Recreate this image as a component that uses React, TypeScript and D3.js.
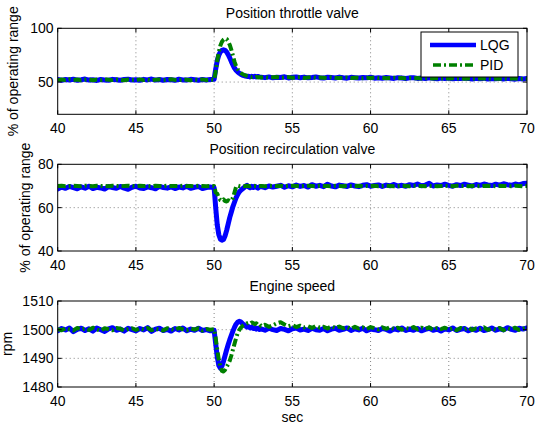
import React from "react";
import * as d3 from "d3";

// ---- time stamps (s) ----
const TIME_A = [40, 40.25, 40.5, 40.75, 41, 41.25, 41.5, 41.75, 42, 42.25, 42.5, 42.75, 43, 43.25, 43.5, 43.75, 44, 44.25, 44.5, 44.75, 45, 45.25, 45.5, 45.75, 46, 46.25, 46.5, 46.75, 47, 47.25, 47.5, 47.75, 48, 48.25, 48.5, 48.75, 49, 49.25, 49.5, 49.75];
const TIME_B = [50, 50.1, 50.2, 50.3, 50.4, 50.5, 50.6, 50.7, 50.8, 50.9, 51, 51.1, 51.2, 51.3, 51.4, 51.5, 51.6, 51.7, 51.8, 51.9, 52, 52.1, 52.2, 52.3, 52.4, 52.5, 52.6, 52.7, 52.8, 52.9];
const TIME_C = [53, 53.25, 53.5, 53.75, 54, 54.25, 54.5, 54.75, 55, 55.25, 55.5, 55.75, 56, 56.25, 56.5, 56.75, 57, 57.25, 57.5, 57.75, 58, 58.25, 58.5, 58.75, 59, 59.25, 59.5, 59.75, 60, 60.25, 60.5, 60.75, 61, 61.25, 61.5, 61.75, 62, 62.25, 62.5, 62.75, 63, 63.25, 63.5, 63.75, 64, 64.25, 64.5, 64.75, 65, 65.25, 65.5, 65.75, 66, 66.25, 66.5, 66.75, 67, 67.25, 67.5, 67.75, 68, 68.25, 68.5, 68.75, 69, 69.25, 69.5, 69.75, 70];
const TIME = [...TIME_A, ...TIME_B, ...TIME_C];

// ---- Position throttle valve (% of operating range) ----
const THROTTLE_LQG = [
  52.3, 51.6, 52.4, 51.9, 52.6, 51.7, 52.2, 52.8, 51.8, 52.1,
  51.5, 52.4, 52.0, 51.7, 52.5, 52.1, 51.6, 52.3, 52.7, 51.9,
  52.2, 51.6, 52.5, 52.0, 52.8, 51.8, 52.3, 51.7, 52.4, 52.1,
  51.6, 52.6, 52.0, 51.8, 52.5, 52.2, 51.7, 52.4, 51.9, 52.3,
  52.5, 62, 70, 75, 78, 79.5, 80, 79.5, 78, 75.5,
  72.5, 69, 66, 63, 61, 59.5, 58.2, 57.3, 56.5, 56,
  55.6, 55.2, 55.5, 54.8, 55.3, 54.9, 55.4, 54.7, 55.2, 54.8,
  54.6, 54.1, 54.8, 53.9, 54.5, 54.2, 54.9, 53.8, 54.4, 54.7,
  54.0, 54.6, 53.9, 54.3, 54.8, 54.1, 53.7, 54.5, 54.2, 53.8,
  54.6, 54.0, 53.6, 54.4, 54.1, 53.7, 54.3, 53.9, 54.5, 53.6,
  54.0, 53.5, 54.2, 53.8, 53.4, 54.1, 53.7, 53.3, 53.9, 54.0,
  53.4, 53.8, 53.2, 53.9, 53.5, 53.1, 53.7, 53.3, 53.8, 53.0,
  53.6, 53.2, 53.7, 53.4, 52.9, 53.5, 53.1, 53.6, 52.8, 53.3,
  53.0, 53.5, 52.9, 53.4, 53.1, 52.7, 53.3, 52.9, 53.4,
];
const THROTTLE_PID = [
  51.8, 52.4, 51.9, 52.6, 52.0, 52.3, 51.6, 52.2, 52.5, 51.7,
  52.3, 51.9, 52.6, 52.2, 51.8, 52.4, 52.0, 51.7, 52.3, 52.1,
  51.8, 52.5, 51.9, 52.3, 51.6, 52.2, 52.4, 51.9, 52.1, 52.6,
  52.0, 51.8, 52.4, 52.2, 51.7, 52.3, 52.0, 52.5, 51.8, 52.1,
  52.0, 60, 70, 78, 84, 87.5, 89.5, 90.5, 90, 88,
  84.5, 80, 74.5, 69, 65, 62, 60, 58.6, 57.5, 56.8,
  56.2, 55.7, 55.3, 55.0, 54.6, 54.9, 54.4, 54.8, 54.3, 54.6,
  54.2, 54.6, 54.0, 54.4, 54.7, 53.9, 54.3, 54.6, 54.0, 54.4,
  54.5, 53.8, 54.2, 54.6, 53.9, 54.3, 54.1, 53.8, 54.4, 54.0,
  53.7, 54.2, 54.3, 53.8, 54.1, 53.9, 53.6, 54.1, 53.8, 54.2,
  53.7, 53.9, 53.5, 53.8, 54.0, 53.6, 53.9, 53.4, 53.7, 53.5,
  53.8, 53.3, 53.6, 53.5, 53.2, 53.7, 53.4, 53.6, 53.2, 53.5,
  53.3, 53.6, 53.1, 53.4, 53.3, 53.0, 53.5, 53.2, 53.4, 53.0,
  53.3, 53.1, 53.4, 52.9, 53.2, 53.3, 52.9, 53.2, 53.1,
];

// ---- Position recirculation valve (% of operating range) ----
const RECIRC_LQG = [
  68.6, 69.5, 68.9, 69.8, 69.2, 68.7, 69.6, 69.0, 69.9, 68.8,
  69.4, 69.1, 68.6, 69.7, 69.3, 68.9, 69.8, 69.0, 68.5, 69.4,
  69.9, 69.1, 68.8, 69.6, 69.2, 68.7, 69.8, 69.3, 69.0, 69.6,
  68.8, 69.5, 69.1, 69.9, 68.9, 69.4, 69.7, 68.8, 69.3, 69.5,
  69.2, 60, 52, 47.5, 45.5, 45, 45.3, 47, 49.5, 52.5,
  55.5, 58, 60.5, 62.5, 64.5, 66, 67.2, 68, 68.6, 69.2,
  69.8, 70.3, 69.6, 69.2, 69.8, 69.3, 69.9, 69.4, 69.0, 69.6,
  69.7, 69.2, 70.0, 69.5, 69.9, 70.3, 69.4, 70.1, 69.6, 70.4,
  69.8, 70.2, 69.5, 70.6, 69.9, 70.3, 69.7, 70.8, 70.0, 69.6,
  70.4, 70.1, 69.8, 70.5, 70.0, 69.7, 70.3, 70.6, 69.9, 70.2,
  70.5, 69.8, 70.4, 70.1, 70.7, 70.0, 70.3, 69.9, 70.6, 70.2,
  70.9, 70.1, 70.4, 71.2, 70.0, 70.5, 70.2, 70.8, 70.3, 69.9,
  70.6, 70.2, 70.8, 70.4, 70.0, 70.7, 70.3, 70.9, 70.5, 70.2,
  70.8, 70.4, 71.0, 70.6, 70.3, 70.9, 70.5, 71.1, 71.3,
];
const RECIRC_PID = [
  70.0, 70.1, 69.9, 70.0, 70.1, 70.0, 69.9, 70.1, 70.0, 69.9,
  70.1, 70.0, 70.0, 69.9, 70.1, 70.0, 69.9, 70.0, 70.1, 70.0,
  69.9, 70.1, 70.0, 70.0, 69.9, 70.1, 70.0, 69.9, 70.1, 70.0,
  70.0, 69.9, 70.1, 70.0, 70.0, 69.9, 70.1, 70.0, 69.9, 70.0,
  70.0, 67.0, 66.5, 64.5, 63.5, 63.2, 63.8, 63.0, 62.8, 63.4,
  63.0, 63.5, 64.5, 67.0, 69.5, 70.2, 70.0, 69.9, 70.1, 70.0,
  69.9, 70.1, 70.0, 69.9, 70.1, 70.0, 70.0, 69.9, 70.1, 70.0,
  70.0, 69.9, 70.1, 70.0, 70.0, 70.1, 69.9, 70.0, 70.1, 70.0,
  69.9, 70.0, 70.1, 70.0, 69.9, 70.1, 70.0, 70.0, 69.9, 70.1,
  70.0, 69.9, 70.1, 70.0, 70.0, 70.1, 69.9, 70.0, 70.0, 70.1,
  69.9, 70.0, 70.1, 70.0, 69.9, 70.0, 70.1, 70.0, 69.9, 70.1,
  70.0, 70.0, 69.9, 70.1, 70.0, 69.9, 70.0, 70.1, 70.0, 69.9,
  70.1, 70.0, 70.0, 69.9, 70.1, 70.0, 69.9, 70.0, 70.1, 70.0,
  69.9, 70.1, 70.0, 70.0, 69.9, 70.1, 70.0, 69.9, 70.0,
];

// ---- Engine speed (rpm) ----
const SPEED_LQG = [
  1499.6, 1500.4, 1499.9, 1500.6, 1499.3, 1500.1, 1500.5, 1499.7, 1500.3, 1499.5,
  1500.6, 1500.0, 1499.4, 1500.3, 1500.7, 1499.8, 1500.2, 1499.5, 1500.5, 1500.0,
  1499.6, 1500.4, 1499.9, 1500.7, 1499.4, 1500.2, 1500.5, 1499.7, 1500.1, 1499.5,
  1500.4, 1499.9, 1500.6, 1499.6, 1500.2, 1499.8, 1500.5, 1499.7, 1500.0, 1499.6,
  1499.8, 1495, 1490.5, 1487.5, 1486.6, 1487.3, 1489, 1491, 1493, 1494.8,
  1496.5, 1498, 1499.5, 1500.8, 1501.9, 1502.6, 1502.9, 1502.7, 1502.2, 1501.7,
  1501.3, 1500.9, 1501.1, 1500.6, 1500.9, 1500.4, 1500.7, 1500.2, 1500.5, 1500.1,
  1500.3, 1499.8, 1500.5, 1500.0, 1499.7, 1500.4, 1500.1, 1499.6, 1500.3, 1500.6,
  1499.9, 1500.2, 1499.7, 1500.5, 1500.0, 1499.8, 1500.4, 1499.6, 1500.2, 1500.5,
  1499.8, 1500.1, 1500.6, 1499.7, 1500.3, 1499.9, 1500.5, 1499.6, 1500.2, 1500.0,
  1499.7, 1500.4, 1500.1, 1499.5, 1500.3, 1499.9, 1500.6, 1499.7, 1500.2, 1499.8,
  1500.4, 1499.6, 1500.1, 1500.5, 1499.8, 1500.2, 1499.5, 1500.3, 1499.9, 1500.6,
  1499.7, 1500.1, 1500.4, 1499.6, 1500.2, 1499.8, 1500.5, 1499.7, 1500.0, 1500.6,
  1499.8, 1500.3, 1499.9, 1500.7, 1500.1, 1499.8, 1500.5, 1500.2, 1500.6,
];
const SPEED_PID = [
  1500.2, 1499.8, 1500.5, 1500.1, 1499.7, 1500.6, 1500.0, 1500.4, 1499.9, 1500.7,
  1500.1, 1499.6, 1500.5, 1500.2, 1499.8, 1500.6, 1500.3, 1499.7, 1500.2, 1500.5,
  1499.9, 1500.4, 1500.0, 1500.6, 1499.8, 1500.3, 1500.1, 1499.7, 1500.5, 1500.2,
  1499.9, 1500.6, 1500.1, 1499.8, 1500.4, 1500.0, 1500.5, 1499.7, 1500.2, 1500.0,
  1500.2, 1497, 1493, 1489.5, 1487, 1485.6, 1485.4, 1486, 1487, 1488,
  1489.2, 1491, 1493, 1495, 1497, 1498.7, 1499.8, 1500.6, 1501.2, 1501.6,
  1501.9, 1502.2, 1502.4, 1502.1, 1502.5, 1502.3, 1501.9, 1502.2, 1501.6, 1501.9,
  1501.3, 1501.7, 1501.0, 1501.5, 1502.2, 1502.6, 1501.8, 1501.2, 1501.6, 1500.9,
  1501.4, 1500.8, 1501.2, 1500.6, 1501.3, 1500.7, 1501.0, 1500.4, 1501.2, 1500.6,
  1501.1, 1500.5, 1500.9, 1500.3, 1501.0, 1500.4, 1500.8, 1500.2, 1500.9, 1500.5,
  1500.1, 1500.8, 1500.3, 1500.9, 1500.2, 1500.7, 1500.0, 1500.6, 1500.3, 1500.9,
  1500.1, 1500.7, 1500.2, 1500.8, 1499.9, 1500.6, 1500.2, 1500.7, 1500.0, 1500.5,
  1499.8, 1500.6, 1500.1, 1500.7, 1499.9, 1500.5, 1500.2, 1500.8, 1499.9, 1500.4,
  1500.0, 1500.6, 1499.8, 1500.5, 1500.1, 1500.7, 1499.9, 1500.4, 1500.2,
];

const X_TICKS = [40, 45, 50, 55, 60, 65, 70];
const SERIES_NAMES = ["LQG", "PID"];

const FONT = "'Liberation Sans', Arial, Helvetica, sans-serif";
const W = 537;
const H = 426;
const X0 = 57.7;
const X1 = 527;
const BLUE = "#0000ff";
const GREEN = "#008000";
const PID_DASH = "8,3,2,3";

type Panel = {
  id: string;
  title: string;
  ylabel: string;
  ylabelX: number;
  top: number;
  bottom: number;
  domain: [number, number];
  ticks: number[];
  lqg: number[];
  pid: number[];
};

const PANELS: Panel[] = [
  { id: "p1", title: "Position throttle valve", ylabel: "% of operating range", ylabelX: 17.5, top: 28.3, bottom: 114.3, domain: [20, 100], ticks: [50, 100], lqg: THROTTLE_LQG, pid: THROTTLE_PID },
  { id: "p2", title: "Position recirculation valve", ylabel: "% of operating range", ylabelX: 29.5, top: 164.3, bottom: 251, domain: [40, 80], ticks: [40, 60, 80], lqg: RECIRC_LQG, pid: RECIRC_PID },
  { id: "p3", title: "Engine speed", ylabel: "rpm", ylabelX: 11.5, top: 301, bottom: 387, domain: [1480, 1510], ticks: [1480, 1490, 1500, 1510], lqg: SPEED_LQG, pid: SPEED_PID },
];

const x = d3.scaleLinear().domain([40, 70]).range([X0, X1]);

function PanelView({ p, last }: { p: Panel; last: boolean }) {
  const y = d3.scaleLinear().domain(p.domain).range([p.bottom, p.top]);
  const line = d3
    .line<number>()
    .x((_, i) => x(TIME[i]))
    .y((v) => y(v));
  const cx = (X0 + X1) / 2;
  const cy = (p.top + p.bottom) / 2;
  return (
    <g>
      <defs>
        <clipPath id={`clip-${p.id}`}>
          <rect x={X0} y={p.top} width={X1 - X0} height={p.bottom - p.top} />
        </clipPath>
      </defs>
      <rect x={X0} y={p.top} width={X1 - X0} height={p.bottom - p.top} fill="#fff" />
      {/* grid */}
      {X_TICKS.filter((t) => t > 40 && t < 70).map((t) => (
        <line key={`gx${t}`} x1={x(t)} x2={x(t)} y1={p.top} y2={p.bottom} stroke="#666" strokeWidth={0.8} strokeDasharray="1,3" />
      ))}
      {p.ticks.filter((t) => t > p.domain[0] && t < p.domain[1]).map((t) => (
        <line key={`gy${t}`} x1={X0} x2={X1} y1={y(t)} y2={y(t)} stroke="#666" strokeWidth={0.8} strokeDasharray="1,3" />
      ))}
      {/* data */}
      <g clipPath={`url(#clip-${p.id})`}>
        <path d={line(p.lqg) || ""} fill="none" stroke={BLUE} strokeWidth={5} strokeLinejoin="round" strokeLinecap="round" />
        <path d={line(p.pid) || ""} fill="none" stroke={GREEN} strokeWidth={4} strokeDasharray={PID_DASH} strokeLinejoin="round" />
      </g>
      {/* ticks */}
      {X_TICKS.map((t) => (
        <g key={`tx${t}`}>
          <line x1={x(t)} x2={x(t)} y1={p.bottom} y2={p.bottom - 4} stroke="#000" />
          <line x1={x(t)} x2={x(t)} y1={p.top} y2={p.top + 4} stroke="#000" />
          <text x={x(t)} y={p.bottom + 18.5} textAnchor="middle" fontSize={14} fontFamily={FONT} fill="#000">{t}</text>
        </g>
      ))}
      {p.ticks.map((t) => (
        <g key={`ty${t}`}>
          <line x1={X0} x2={X0 + 4} y1={y(t)} y2={y(t)} stroke="#000" />
          <line x1={X1} x2={X1 - 4} y1={y(t)} y2={y(t)} stroke="#000" />
          <text x={53.5} y={y(t) + 5} textAnchor="end" fontSize={14} fontFamily={FONT} fill="#000">{t}</text>
        </g>
      ))}
      <rect x={X0} y={p.top} width={X1 - X0} height={p.bottom - p.top} fill="none" stroke="#000" strokeWidth={1} />
      <text x={cx} y={p.top - 10.5} textAnchor="middle" fontSize={14} fontFamily={FONT} fill="#000">{p.title}</text>
      <text transform={`translate(${p.ylabelX},${cy}) rotate(-90)`} textAnchor="middle" fontSize={14} fontFamily={FONT} fill="#000">{p.ylabel}</text>
      {last && (
        <text x={cx} y={422} textAnchor="middle" fontSize={14} fontFamily={FONT} fill="#000">sec</text>
      )}
    </g>
  );
}

function Legend() {
  const lx = 421, ly = 32, lw = 97, lh = 45;
  return (
    <g>
      <rect x={lx} y={ly} width={lw} height={lh} fill="#fff" stroke="#000" strokeWidth={1} />
      <line x1={430} x2={476} y1={45} y2={45} stroke={BLUE} strokeWidth={4.5} />
      <text x={480} y={50} fontSize={14} fontFamily={FONT} fill="#000">{SERIES_NAMES[0]}</text>
      <line x1={430} x2={476} y1={65} y2={65} stroke={GREEN} strokeWidth={3.5} strokeDasharray={PID_DASH} strokeDashoffset={-3} />
      <text x={480} y={70} fontSize={14} fontFamily={FONT} fill="#000">{SERIES_NAMES[1]}</text>
    </g>
  );
}

export default function App() {
  return (
    <svg width={W} height={H} style={{ position: "absolute", left: 0, top: 0, background: "#fff" }}>
      <rect width={W} height={H} fill="#fff" />
      {PANELS.map((p, i) => (
        <PanelView key={p.id} p={p} last={i === PANELS.length - 1} />
      ))}
      <Legend />
    </svg>
  );
}
